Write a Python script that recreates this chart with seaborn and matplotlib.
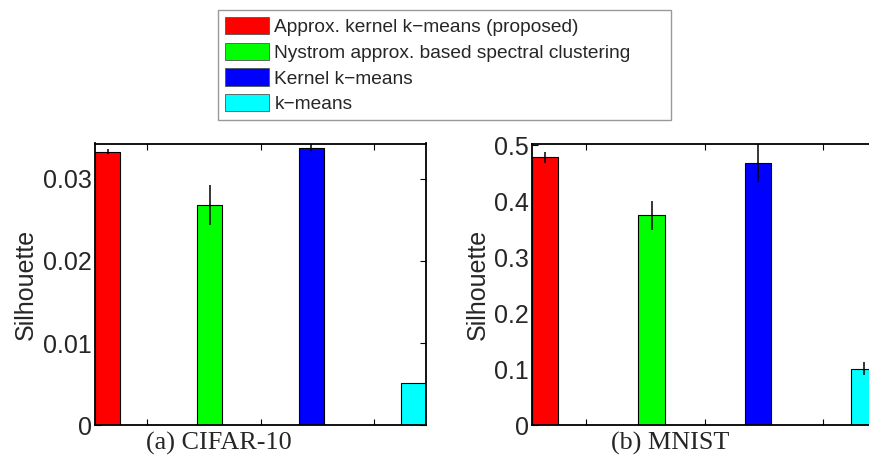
import matplotlib
matplotlib.use("Agg")
import matplotlib.pyplot as plt
import matplotlib.patches as mpatches
import numpy as np
import pandas as pd
import seaborn as sns

# Clustering methods and their silhouette scores (mean ± std)
methods = [
    "Approx. kernel k\u2212means (proposed)",
    "Nystrom approx. based spectral clustering",
    "Kernel k\u2212means",
    "k\u2212means",
]
bar_colors = ["#FF0000", "#00FF00", "#0000FF", "#00FFFF"]

cifar_mean = [0.03332, 0.02676, 0.03381, 0.00511]
cifar_err = [0.00035, 0.00244, 0.00041, 0.00005]

mnist_mean = [0.4786, 0.375, 0.469, 0.101]
mnist_err = [0.0098, 0.0255, 0.034, 0.0116]

cifar_yticks = [0, 0.01, 0.02, 0.03]
cifar_yticklabels = ["0", "0.01", "0.02", "0.03"]
mnist_yticks = [0, 0.1, 0.2, 0.3, 0.4, 0.5]
mnist_yticklabels = ["0", "0.1", "0.2", "0.3", "0.4", "0.5"]

captions = ["(a) CIFAR-10", "(b) MNIST"]

sns.set_theme(style="white")
plt.rcParams["font.family"] = ["Liberation Sans", "DejaVu Sans"]

W, H = 870, 458
fig = plt.figure(figsize=(W / 100, H / 100), dpi=100)


def px_axes(left, right, top, bottom):
    return fig.add_axes([left / W, 1 - bottom / H, (right - left) / W, (bottom - top) / H])


ax1 = px_axes(95, 426, 143.5, 425.3)
ax2 = px_axes(531.7, 877.8, 144, 425.3)


def draw_panel(ax, means, errs, ylim_top, yticks, yticklabels):
    df = pd.DataFrame({"method": methods, "score": means})
    sns.barplot(
        data=df, x="method", y="score", hue="method", palette=bar_colors,
        order=methods, hue_order=methods, width=0.25, edgecolor="black",
        linewidth=0.8, legend=False, ax=ax, saturation=1,
    )
    ax.errorbar(np.arange(len(methods)), means, yerr=errs, fmt="none",
                ecolor="black", elinewidth=1.1, capsize=0, zorder=5)
    ax.set_xlim(-0.125, 3.125)
    ax.set_ylim(0, ylim_top)
    xt = [1.5 - 10 / 9, 1.5, 1.5 + 10 / 9]
    ax.set_xticks(xt)
    ax.set_xticklabels([])
    ax.set_yticks(yticks)
    ax.set_yticklabels(yticklabels)
    ax.set_xlabel("")
    ax.set_ylabel("Silhouette", fontsize=18, labelpad=0)
    ax.tick_params(axis="both", direction="in", length=4, width=0.8,
                   top=True, right=True, bottom=True, left=True,
                   labelsize=18, pad=2, color="black")
    for s in ax.spines.values():
        s.set_visible(True)
        s.set_color("black")
        s.set_linewidth(1.3)


draw_panel(ax1, cifar_mean, cifar_err, 0.0343, cifar_yticks, cifar_yticklabels)
draw_panel(ax2, mnist_mean, mnist_err, 0.5024, mnist_yticks, mnist_yticklabels)

ax1.yaxis.set_label_coords(-0.172, 0.5)
ax2.yaxis.set_label_coords(-0.121, 0.5)

# Panel captions
serif = ["Liberation Serif", "DejaVu Serif"]
fig.text(219 / W, 1 - 443 / H, captions[0], ha="center", va="center",
         fontsize=18.8, family=serif)
fig.text(670.5 / W, 1 - 443 / H, captions[1], ha="center", va="center",
         fontsize=18.8, family=serif)

# Shared legend
handles = [mpatches.Patch(facecolor=c, edgecolor="#555555", linewidth=0.6)
           for c in bar_colors]
leg = fig.legend(
    handles, methods, loc="upper left",
    bbox_to_anchor=(218.3 / W, 1 - 10 / H, (670.7 - 218.3) / W, 0.0),
    mode="expand", fontsize=13.8, handlelength=2.3, handleheight=1.0,
    handletextpad=0.25, labelspacing=0.34, borderpad=0.37, borderaxespad=0,
    fancybox=False, framealpha=1, edgecolor="#999999",
)
leg.get_frame().set_linewidth(1.0)

fig.savefig("out.png", dpi=100)
